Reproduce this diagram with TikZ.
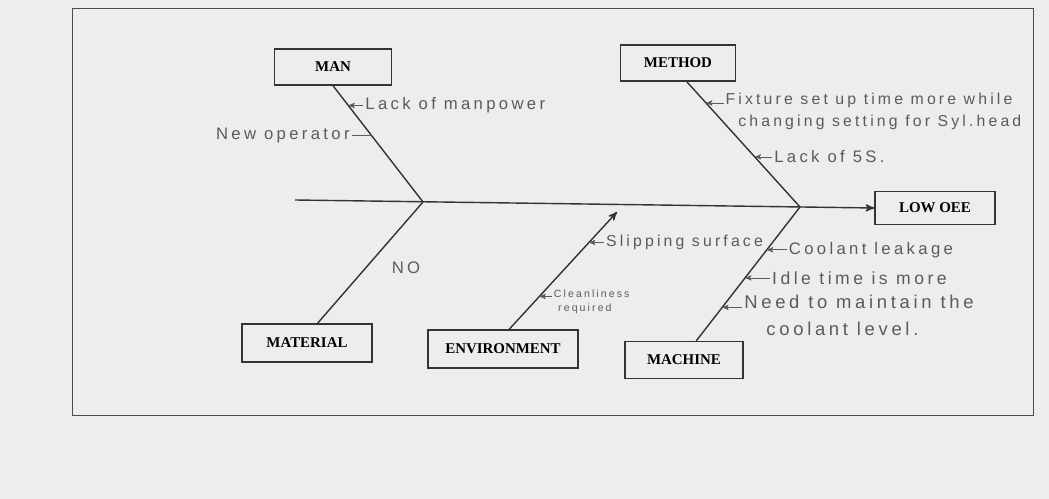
\documentclass[tikz,border=0pt]{standalone}
\usepackage{fontspec}
\setmainfont{Liberation Serif}
\newfontfamily\handfont[LetterSpace=20]{Liberation Sans}
\usetikzlibrary{arrows,positioning}
\definecolor{paper}{RGB}{236,238,235}
\definecolor{pencil}{RGB}{90,92,90}
\tikzset{
    %Define standard arrow tip
    >=stealth',
    %Define style for cause boxes
    cause/.style={
      rectangle,
      draw=black!80, line width=0.8pt,
      minimum width=2.35cm,
      minimum height=0.72cm,
      font=\bfseries\fontsize{8.5}{10}\selectfont,
      text centered},
    % Define style for handwritten notes
    note/.style={
      font=\handfont\fontsize{9.5}{14}\selectfont,
      text=pencil,
      inner sep=1pt},
    % Define line styles
    bone/.style={draw=black!80, line width=0.8pt},
    arr/.style={->, draw=pencil, thin},
}

\begin{document}
\begin{tikzpicture}[x=0.02cm, y=-0.02cm]
    \fill[paper] (0,0) rectangle (1049,499);
    \draw[black!70, thin] (72,8) rectangle (1033,415);

    % boxes
    \node[cause] (man) at (333,67) {MAN};
    \node[cause, minimum width=2.3cm] (method) at (678,63) {METHOD};
    \node[cause, minimum width=2.4cm, minimum height=0.66cm] (effect) at (935,208) {LOW OEE};
    \node[cause, minimum width=2.6cm, minimum height=0.76cm] (material) at (307,343) {MATERIAL};
    \node[cause, minimum width=3cm, minimum height=0.76cm] (environment) at (503,349) {ENVIRONMENT};
    \node[cause, minimum width=2.36cm, minimum height=0.74cm] (machine) at (684,360) {MACHINE};

    % spine
    \coordinate (tail) at (295,200);
    \coordinate (j1) at (423,202);
    \coordinate (j2) at (800,207);
    \coordinate (envtip) at (617,212);
    \draw[bone, ->] (tail) -- (effect.west);

    % bones
    \draw[bone] (man.south) -- (j1)
      coordinate[pos=0.17] (man1) coordinate[pos=0.43] (man2);
    \draw[bone] ([xshift=5pt]method.south) -- (j2)
      coordinate[pos=0.17] (meth1) coordinate[pos=0.6] (meth2);
    \draw[bone] ([xshift=6pt]material.north) -- (j1);
    \draw[bone, ->] ([xshift=3.5pt]environment.north) -- (envtip)
      coordinate[pos=0.28] (env1) coordinate[pos=0.74] (env2);
    \draw[bone] ([xshift=7pt]machine.north) -- (j2)
      coordinate[pos=0.25] (mach1) coordinate[pos=0.47] (mach2)
      coordinate[pos=0.68] (mach3);

    % man
    \node[note, right=0.3cm of man1] (lackman) {Lack of manpower};
    \draw[arr] (lackman) -- (man1);
    \node[note, left=0.4cm of man2] (newop) {New operator};
    \draw[pencil, thin] (newop) -- (man2);

    % method
    \node[note, font=\handfont\fontsize{9}{13}\selectfont, align=left,
      below right=-0.25cm and 0.35cm of meth1] (fixture)
      {Fixture set up time more while\\\hspace*{0.8em}changing setting for Syl.head};
    \draw[arr] (fixture.west |- meth1) -- (meth1);
    \node[note, right=0.35cm of meth2] (lack5s) {Lack of 5S.};
    \draw[arr] (lack5s) -- (meth2);

    % material
    \node[note] (no) at (406,268) {NO};

    % environment
    \node[note, font=\handfont\fontsize{9}{13}\selectfont, right=0.3cm of env2] (slip)
      {Slipping surface};
    \draw[arr] (slip) -- (env2);
    \node[note, font=\handfont\fontsize{6}{8}\selectfont, align=left,
      below right=-0.17cm and 0.25cm of env1] (clean)
      {Cleanliness\\\hspace*{0.4em}required};
    \draw[arr] (clean.west |- env1) -- (env1);

    % machine
    \node[note, right=0.4cm of mach3] (leak) {Coolant leakage};
    \draw[arr] (leak) -- (mach3);
    \node[note, font=\handfont\fontsize{10}{14}\selectfont, right=0.5cm of mach2] (idle)
      {Idle time is more};
    \draw[arr] (idle) -- (mach2);
    \node[note, font=\handfont\fontsize{10.5}{15}\selectfont, align=left,
      below right=-0.28cm and 0.4cm of mach1] (level)
      {Need to maintain the\\\hspace*{1.2em}coolant level.};
    \draw[arr] (level.west |- mach1) -- (mach1);
\end{tikzpicture}
\end{document}
